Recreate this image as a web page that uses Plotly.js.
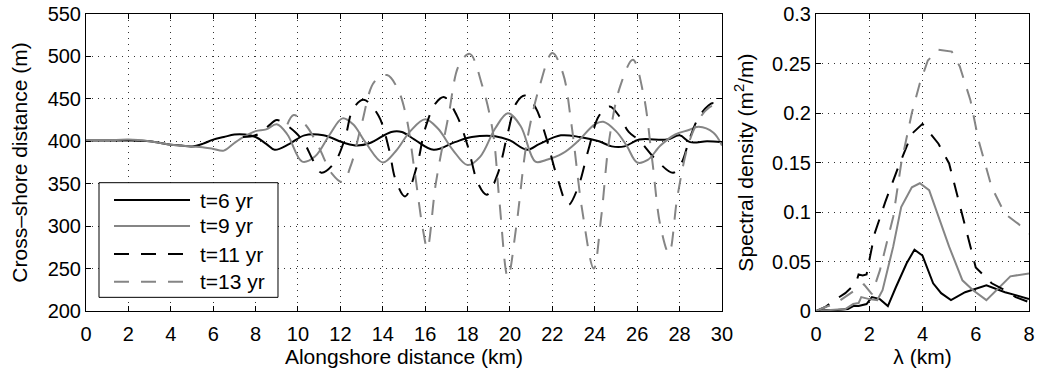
<!DOCTYPE html>
<html>
<head>
<meta charset="utf-8">
<script src="https://cdn.plot.ly/plotly-3.0.1.min.js"></script>
<style>html,body{margin:0;padding:0;background:#fff;}</style>
</head>
<body>
<div id="chart" style="width:1044px;height:373px;"></div>
<script>
// ---- Data: shoreline position (left panel) ----
const seriesNames = ['t=6 yr', 't=9 yr', 't=11 yr', 't=13 yr'];

const x6 = [0,1,2,3,4,4.5,5,5.5,6,6.5,7,7.5,8,8.5,8.9,9.6,10.3,11.2,12.2,12.8,13.4,14.4,14.9,15.5,16.4,17.4,18.2,19.3,20,20.8,21.4,22.4,23.3,24.2,24.8,25.4,26.1,27.4,28,28.5,29.3,30];
const y6 = [401,401,401,400,396,395,394,397,402,405,408,408,405,397,390,397,407,407,398,395,398,411,411,402,390,399,405,406,401,390,397,407,405,400,394,394,402,402,407,399,400,399];

const x9 = [0,1,2,3,4,5,5.5,6,6.5,7,7.5,8,8.5,9,9.5,10.2,10.8,11.5,12.1,12.6,13.2,14,14.6,15.3,16,16.6,17.3,18,18.6,19.3,19.9,20.5,21.2,21.7,22.5,23.2,24,24.4,25,25.5,26,26.5,27.1,27.8,28.4,28.9,29.6,30];
const y9 = [401,401,402,400,396,394,393,391,389,398,406,412,414,420,408,376,382,408,427,420,398,375,388,412,426,415,390,372,382,415,433,418,376,378,386,400,420,423,412,395,375,378,395,408,413,417,410,395];

const x11 = [7.4,8.1,8.6,9,9.4,9.9,10.3,10.7,11.1,11.7,12.2,12.6,13.1,13.8,14.3,14.6,15.05,15.6,16,16.5,16.9,17.5,18,18.5,18.9,19.4,19.9,20.3,20.7,21.2,21.7,22.2,22.75,23.2,23.7,24.2,24.7,25.2,25.6,26.1,26.9,27.7,28.1,28.5,29,29.6,30];
const y11 = [405,408,418,425,420,410,398,378,363,374,402,438,449,430,390,355,335,370,415,445,452,430,395,350,337,360,410,445,454,440,405,360,325,345,390,430,441,428,411,401,378,363,375,405,432,445,436];

const x13 = [9.5,9.8,10.4,11,11.6,12.1,12.5,13,13.6,14.2,14.7,15.1,15.5,15.9,16.1,16.5,17.1,17.6,18.1,18.7,19.2,19.5,19.9,20.3,20.8,21.4,22,22.5,22.9,23.4,23.95,24.3,24.7,25.2,25.8,26.3,26.7,27.1,27.5,27.9,28.4,28.9,29.4,30];
const y13 = [420,431,418,392,362,352,372,420,470,478,462,430,365,295,274,350,430,490,503,465,410,330,240,300,400,465,504,480,420,320,250,310,405,465,496,455,380,300,268,335,395,425,440,445];

// ---- Data: spectral density (right panel) ----
const s6x = [0,0.4,0.8,1.2,1.4,1.6,1.9,2.1,2.4,2.7,3.0,3.4,3.7,4.0,4.4,4.7,5.07,5.6,6.4,7.1,7.5,8];
const s6y = [0,0.001,0.001,0.002,0.005,0.005,0.007,0.014,0.012,0.005,0.024,0.048,0.062,0.056,0.028,0.018,0.011,0.019,0.026,0.019,0.016,0.012];

const s9x = [0,0.5,1.1,1.4,1.6,1.7,2.0,2.3,2.5,2.9,3.2,3.6,3.9,4.25,4.6,5.0,5.5,5.9,6.4,6.9,7.3,8];
const s9y = [0,0.001,0.002,0.007,0.008,0.014,0.012,0.011,0.021,0.065,0.105,0.125,0.129,0.122,0.095,0.065,0.031,0.021,0.011,0.024,0.035,0.038];

const s11x = [0,0.35,0.7,1.1,1.5,1.6,1.75,1.9,2.2,2.6,3.1,3.6,4.0,4.6,5.0,5.5,6.0,6.6,7.1,7.5,8];
const s11y = [0,0.004,0.011,0.018,0.028,0.037,0.036,0.037,0.078,0.11,0.146,0.179,0.189,0.169,0.149,0.098,0.044,0.028,0.021,0.014,0.009];

const s13x = [0,0.35,0.7,1.1,1.5,1.8,2.1,2.4,2.9,3.2,3.6,3.9,4.2,4.6,5.1,5.4,5.8,6.1,6.6,7.1,7.6,8];
const s13y = [0,0.004,0.007,0.014,0.021,0.027,0.017,0.041,0.095,0.149,0.2,0.23,0.253,0.264,0.262,0.247,0.213,0.173,0.125,0.098,0.088,0.078];

// ---- Styles ----
const colors = ['#000000', '#858585', '#000000', '#858585'];
const DASH = '15px,12px';
const dashes = ['solid', 'solid', DASH, DASH];
const LW = 2;

const profX = [x6, x9, x11, x13];
const profY = [y6, y9, y11, y13];
const specX = [s6x, s9x, s11x, s13x];
const specY = [s6y, s9y, s11y, s13y];

const traces = [];
for (let i = 0; i < 4; i++) {
  traces.push({
    x: profX[i], y: profY[i], type: 'scatter', mode: 'lines', name: seriesNames[i],
    line: {color: colors[i], width: LW, dash: dashes[i], shape: 'spline', smoothing: 1},
    xaxis: 'x', yaxis: 'y', hoverinfo: 'skip'
  });
}
for (let i = 0; i < 4; i++) {
  traces.push({
    x: specX[i], y: specY[i], type: 'scatter', mode: 'lines', name: seriesNames[i],
    line: {color: colors[i], width: LW, dash: dashes[i]},
    xaxis: 'x2', yaxis: 'y2', hoverinfo: 'skip', showlegend: false
  });
}

const FONT = 'Liberation Sans, Arial, Helvetica, sans-serif';
const FS_TICK = 20;
const FS_TITLE = 21;

function axisBase() {
  return {
    ticks: 'inside', ticklen: 5, tickwidth: 1, tickcolor: '#000',
    showline: true, linecolor: '#000', linewidth: 1, mirror: 'ticks',
    showgrid: true, gridcolor: '#333', gridwidth: 1, griddash: '1px,5px',
    zeroline: false, fixedrange: true,
    tickfont: {family: FONT, size: FS_TICK, color: '#000'}
  };
}

const xaxis = Object.assign(axisBase(), {
  domain: [0, 0.6744], range: [0, 30], tick0: 0, dtick: 2, anchor: 'y',
  ticklabelstandoff: 5,
  title: {text: 'Alongshore distance (km)', font: {family: FONT, size: FS_TITLE}, standoff: 1}
});
const yaxis = Object.assign(axisBase(), {
  range: [200, 550], tick0: 200, dtick: 50, anchor: 'x',
  title: {text: 'Cross\u2013shore distance (m)', font: {family: FONT, size: FS_TITLE}, standoff: 14}
});
const xaxis2 = Object.assign(axisBase(), {
  domain: [0.7741, 1], range: [0, 8], tick0: 0, dtick: 2, anchor: 'y2',
  ticklabelstandoff: 5,
  title: {text: '\u03bb (km)', font: {family: FONT, size: FS_TITLE}, standoff: 1}
});
const yaxis2 = Object.assign(axisBase(), {
  range: [0, 0.3], tick0: 0, dtick: 0.05, anchor: 'x2',
  title: {text: 'Spectral density (m<sup>2</sup>/m)', font: {family: FONT, size: FS_TITLE}, standoff: 12}
});

// ---- Custom legend (MATLAB-style long line samples) ----
const legBox = {x0: 0.0138, x1: 0.2036, y0: 0.046, y1: 0.432};
const legRows = [0.3737, 0.2862, 0.1919, 0.0987];
const shapes = [{
  type: 'rect', xref: 'paper', yref: 'paper',
  x0: legBox.x0, x1: legBox.x1, y0: legBox.y0, y1: legBox.y1,
  line: {color: '#000', width: 1}, fillcolor: '#fff', layer: 'above'
}];
const annotations = [];
for (let i = 0; i < 4; i++) {
  shapes.push({
    type: 'line', xref: 'paper', yref: 'paper',
    x0: 0.0297, x1: 0.1103, y0: legRows[i], y1: legRows[i],
    line: {color: colors[i], width: LW, dash: dashes[i]}, layer: 'above'
  });
  annotations.push({
    xref: 'paper', yref: 'paper', x: 0.1188, y: legRows[i],
    xanchor: 'left', yanchor: 'middle', showarrow: false,
    text: seriesNames[i], font: {family: FONT, size: FS_TITLE, color: '#000'}
  });
}

const layout = {
  width: 1044, height: 373,
  margin: {l: 86, r: 15, t: 14, b: 62},
  paper_bgcolor: '#fff', plot_bgcolor: '#fff',
  font: {family: FONT, size: FS_TICK, color: '#000'},
  showlegend: false,
  xaxis: xaxis, yaxis: yaxis, xaxis2: xaxis2, yaxis2: yaxis2,
  shapes: shapes, annotations: annotations
};

Plotly.newPlot('chart', traces, layout, {staticPlot: true, displayModeBar: false});
</script>
</body>
</html>
